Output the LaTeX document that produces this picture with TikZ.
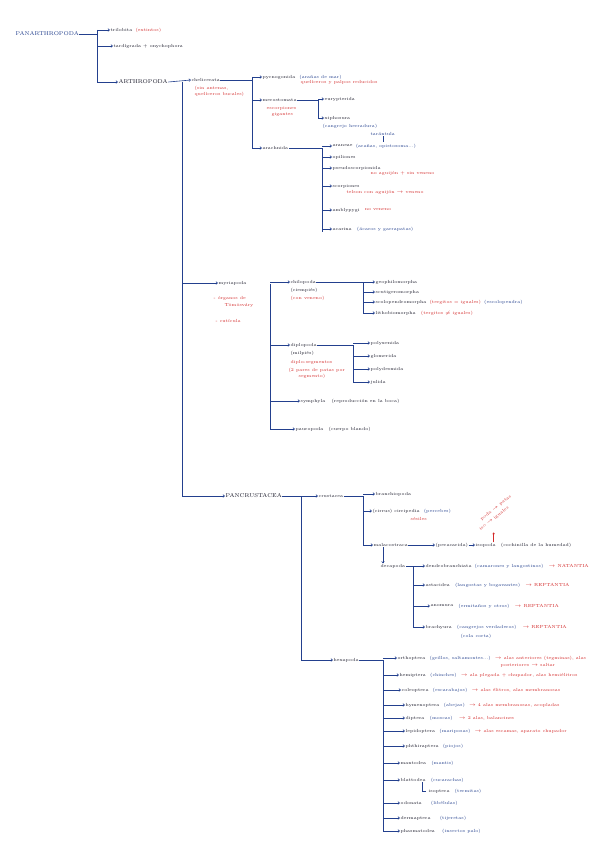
\documentclass[tikz,border=0pt]{standalone}
\usetikzlibrary{arrows.meta}
\definecolor{myblue}{HTML}{23408E}
\definecolor{myred}{HTML}{D42A2A}
\definecolor{ink}{HTML}{1A1A2A}
\tikzset{
 tx/.style={font=\fontsize{4.4}{5}\selectfont, inner sep=0.4pt, anchor=west, text=ink},
 bl/.style={tx, text=myblue},
 rd/.style={tx, text=myred},
 big/.style={tx, text=myblue, font=\fontsize{5.6}{6}\selectfont},
 ln/.style={draw=myblue, line width=0.6pt},
 arr/.style={ln, -{Straight Barb[length=1.6pt,width=2.6pt]}},
}
\newcommand\aftr[5][2pt]{\node[#2] (#3) at ([xshift=#1]#4.east) {#5};}
\begin{document}
\begin{tikzpicture}[x=1pt,y=-1pt]
\fill[white] (0,0) rectangle (600,848);
\useasboundingbox (0,0) rectangle (600,848);

% ---------- root ----------
\node[big] (pan) at (15,34) {PANARTHROPODA};
\coordinate (s0a) at (97,30);
\coordinate (s0b) at (97,82);
\draw[ln] (pan.east) -- (pan.east -| s0a);
\draw[ln] (s0a) -- (s0b);
\node[tx] (tri) at (110,30) {trilobita};
\aftr{rd}{trir}{tri}{(extintos)}
\node[tx] (tar) at (113,46) {tardígrada + onychophora};
\node[big, text=ink] (art) at (118,82) {ARTHROPODA};
\foreach \n in {tri,tar,art} \draw[arr] (\n.west -| s0a) -- (\n.west);

% ---------- arthropoda spine ----------
\node[tx] (che) at (191,80) {chelicerata};
\draw[arr] (art.east) -- (che.west);
\node[rd] (cher1) at (194,88) {(sin antenas,};
\node[rd] (cher2) at (194,94) {quelíceros bucales)};
\coordinate (s1a) at (182,82);
\coordinate (s1b) at (182,497);
\draw[ln] (s1a) -- (s1b);

% ---------- chelicerata ----------
\coordinate (s2a) at (252,77);
\coordinate (s2b) at (252,148);
\draw[ln] (che.east) -- (che.east -| s2a);
\draw[ln] (s2a) -- (s2b);
\node[tx] (pyc) at (262,77) {pycnogonida};
\aftr[3pt]{bl}{pycb}{pyc}{(arañas de mar)}
\node[rd] (pycr) at (300,82) {quelíceros y palpos reducidos};
\node[tx] (mer) at (262,100) {merostomata};
\node[rd] (merr1) at (266,108) {escorpiones};
\node[rd] (merr2) at (271,114) {gigantes};
\node[tx] (ara) at (262,148) {arachnida};
\foreach \n in {pyc,mer,ara} \draw[arr] (\n.west -| s2a) -- (\n.west);

% merostomata
\coordinate (s3a) at (318,100);
\coordinate (s3b) at (318,118);
\draw[ln] (mer.east) -- (mer.east -| s3a);
\draw[ln] (s3a) -- (s3b);
\node[tx] (eur) at (324,99) {eurypterida};
\node[tx] (xip) at (324,118) {xiphosura};
\node[bl] (xipb) at (322,126) {(cangrejo herradura)};
\foreach \n in {eur,xip} \draw[arr] (\n.west -| s3a) -- (\n.west);

% arachnida
\coordinate (s4a) at (322,148);
\coordinate (s4b) at (322,232);
\draw[ln] (ara.east) -- (ara.east -| s4a);
\draw[ln] (s4a) -- (s4b);
\node[tx] (arn) at (332,146) {araneae};
\aftr{bl}{arnb}{arn}{(arañas, opistosoma...)}
\node[bl] (tara) at (370,134) {tarántula};
\draw[ln, line width=0.4pt] (tara.south) -- ++(0,6);
\node[tx] (opi) at (332,157) {opiliones};
\node[tx] (pse) at (332,168) {pseudoscorpionida};
\node[rd] (pser) at (370,173) {no aguijón + sin veneno};
\node[tx] (sco) at (332,186) {scorpiones};
\node[rd] (scor) at (346,192) {telson con aguijón $\to$ veneno};
\node[tx] (amb) at (332,210) {amblypygi};
\aftr[4pt]{rd}{ambr}{amb}{no veneno}
\node[tx] (aca) at (332,229) {acarina};
\aftr[4pt]{bl}{acab}{aca}{(ácaros y garrapatas)}
\foreach \n in {arn,opi,pse,sco,amb,aca} \draw[arr] (\n.west -| s4a) -- (\n.west);

% ---------- myriapoda ----------
\node[tx] (myr) at (218,283) {myriapoda};
\node[rd] (myr1) at (213,298) {- órganos de};
\node[rd] (myr2) at (224,305) {Tömösváry};
\node[rd] (myr3) at (215,321) {- cutícula};
\draw[arr] (myr.west -| s1a) -- (myr.west);
\coordinate (s5a) at (270,284);
\coordinate (s5b) at (270,430);
\draw[ln] (s5a) -- (s5b);
\node[tx] (chi) at (290,282) {chilopoda};
\node[tx] (chi1) at (290,290) {(ciempiés)};
\node[rd] (chi2) at (290,298) {(con veneno)};
\node[tx] (dip) at (290,345) {diplopoda};
\node[tx] (dip1) at (290,353) {(milpiés)};
\node[rd] (dip2) at (290,362) {diplo-segmentos};
\node[rd] (dip3) at (288,370) {(2 pares de patas por};
\node[rd] (dip4) at (298,376) {segmento)};
\node[tx] (sym) at (300,401) {symphyla};
\aftr[5pt]{tx}{symb}{sym}{(reproducción en la boca)}
\node[tx] (pau) at (295,429) {pauropoda};
\aftr[4pt]{tx}{paub}{pau}{(cuerpo blando)}
\foreach \n in {chi,dip,sym,pau} \draw[arr] (\n.west -| s5a) -- (\n.west);

\coordinate (s6a) at (363,282);
\coordinate (s6b) at (363,313);
\draw[ln] (chi.east) -- (chi.east -| s6a);
\draw[ln] (s6a) -- (s6b);
\node[tx] (geo) at (375,282) {geophilomorpha};
\node[tx] (scu) at (375,292) {scutigeromorpha};
\node[tx] (scl) at (375,302) {scolopendromorpha};
\aftr{rd}{sclr}{scl}{(tergitos = iguales)}
\aftr{bl}{sclb}{sclr}{(escolopendra)}
\node[tx] (lit) at (375,313) {lithobiomorpha};
\aftr[4pt]{rd}{litr}{lit}{(tergitos $\neq$ iguales)}
\foreach \n in {geo,scu,scl,lit} \draw[arr] (\n.west -| s6a) -- (\n.west);

\coordinate (s7a) at (353,345);
\coordinate (s7b) at (353,382);
\draw[ln] (dip.east) -- (dip.east -| s7a);
\draw[ln] (s7a) -- (s7b);
\node[tx] (pxe) at (370,343) {polyxenida};
\node[tx] (glo) at (370,356) {glomerida};
\node[tx] (pde) at (370,369) {polydesmida};
\node[tx] (jul) at (370,382) {julida};
\foreach \n in {pxe,glo,pde,jul} \draw[arr] (\n.west -| s7a) -- (\n.west);

% ---------- pancrustacea ----------
\node[big, text=ink] (pcr) at (225,496) {PANCRUSTACEA};
\draw[arr] (pcr.west -| s1a) -- (pcr.west);
\coordinate (s8a) at (301,497);
\coordinate (s8b) at (301,660);
\draw[ln] (s8a) -- (s8b);
\node[tx] (cru) at (318,496) {crustacea};
\draw[arr] (pcr.east) -- (cru.west);
\node[tx] (hex) at (333,660) {hexapoda};
\draw[arr] (hex.west -| s8a) -- (hex.west);

\coordinate (s9a) at (363,496);
\coordinate (s9b) at (363,545);
\draw[ln] (cru.east) -- (cru.east -| s9a);
\draw[ln] (s9a) -- (s9b);
\node[tx] (brc) at (375,494) {branchiopoda};
\node[tx] (cir) at (372,511) {(cirrus) cirripedia};
\aftr[3pt]{bl}{cirb}{cir}{(percebes)}
\node[rd] (cirr) at (410,519) {sésiles};
\node[tx] (mal) at (373,545) {malacostraca};
\foreach \n in {brc,cir,mal} \draw[arr] (\n.west -| s9a) -- (\n.west);
\node[tx] (per) at (435,545) {(peracarida)};
\draw[arr] (mal.east) -- (per.west);
\node[tx] (iso) at (475,545) {isopoda};
\aftr[4pt]{tx}{isob}{iso}{(cochinilla de la humedad)}
\draw[arr] (per.east) -- (iso.west);
\draw[draw=myred, line width=0.4pt, -{Straight Barb[length=1.4pt,width=2.2pt]}] ([xshift=8pt]iso.north) -- ++(0,-10);
\node[rd, rotate=38, anchor=south west] (isr1) at (481,532) {iso $\to$ iguales};
\node[rd, rotate=38, anchor=south west] (isr2) at (482,522) {poda $\to$ patas};

\node[tx] (dec) at (380,566) {decapoda};
\draw[arr] (mal.south -| 383,0) -- (dec.north -| 383,0);
\coordinate (s10a) at (413,566);
\coordinate (s10b) at (413,627);
\draw[ln] (dec.east) -- (dec.east -| s10a);
\draw[ln] (s10a) -- (s10b);
\node[tx] (den) at (425,566) {dendrobranchiata};
\aftr{bl}{denb}{den}{(camarones y langostinos)}
\aftr[4pt]{rd}{denr}{denb}{$\to$ NATANTIA}
\node[tx] (ast) at (425,585) {astacidea};
\aftr[4pt]{bl}{astb}{ast}{(langostas y bogavantes)}
\aftr[4pt]{rd}{astr}{astb}{$\to$ REPTANTIA}
\node[tx] (ano) at (430,606) {anomura};
\aftr[4pt]{bl}{anob}{ano}{(ermitaños y otros)}
\aftr[4pt]{rd}{anor}{anob}{$\to$ REPTANTIA}
\node[tx] (bry) at (425,627) {brachyura};
\aftr[4pt]{bl}{bryb}{bry}{(cangrejos verdaderos)}
\aftr[5pt]{rd}{bryr}{bryb}{$\to$ REPTANTIA}
\node[bl] (bryc) at (460,636) {(cola corta)};
\foreach \n in {den,ast,ano,bry} \draw[arr] (\n.west -| s10a) -- (\n.west);

% ---------- hexapoda ----------
\coordinate (s11a) at (383,660);
\coordinate (s11b) at (383,832);
\draw[ln] (hex.east) -- (hex.east -| s11a);
\draw[ln] (s11a) -- (s11b);
\node[tx] (ort) at (397,658) {orthoptera};
\aftr[3pt]{bl}{ortb}{ort}{(grillos, saltamontes...)}
\aftr[3pt]{rd}{ortr}{ortb}{$\to$ alas anteriores (tegminas), alas}
\node[rd] (ortr2) at (500,665) {posteriores $\to$ saltar};
\node[tx] (hem) at (399,675) {hemiptera};
\aftr[3pt]{bl}{hemb}{hem}{(chinches)}
\aftr[3pt]{rd}{hemr}{hemb}{$\to$ ala plegada + chupador, alas hemiélitros};
\node[tx] (col) at (401,690) {coleoptera};
\aftr[3pt]{bl}{colb}{col}{(escarabajos)}
\aftr[3pt]{rd}{colr}{colb}{$\to$ alas élitros, alas membranosas}
\node[tx] (hym) at (405,705) {hymenoptera};
\aftr[3pt]{bl}{hymb}{hym}{(abejas)}
\aftr[3pt]{rd}{hymr}{hymb}{$\to$ 4 alas membranosas, acopladas}
\node[tx] (dpt) at (405,718) {diptera};
\aftr[4pt]{bl}{dptb}{dpt}{(moscas)}
\aftr[5pt]{rd}{dptr}{dptb}{$\to$ 2 alas, balancines}
\node[tx] (lep) at (405,731) {lepidoptera};
\aftr[3pt]{bl}{lepb}{lep}{(mariposas)}
\aftr[3pt]{rd}{lepr}{lepb}{$\to$ alas escamas, aparato chupador}
\node[tx] (phi) at (405,746) {phthiraptera};
\aftr[3pt]{bl}{phib}{phi}{(piojos)}
\node[tx] (man) at (400,763) {mantodea};
\aftr[4pt]{bl}{manb}{man}{(mantis)}
\node[tx] (bla) at (400,780) {blattodea};
\aftr[4pt]{bl}{blab}{bla}{(cucarachas)}
\node[tx] (isp) at (428,791) {isoptera};
\aftr[4pt]{bl}{ispb}{isp}{(termitas)}
\draw[ln] (bla.south -| 422,0) |- ([xshift=-2pt]isp.west);
\node[tx] (odo) at (400,803) {odonata};
\aftr[8pt]{bl}{odob}{odo}{(libélulas)}
\node[tx] (der) at (400,818) {dermaptera};
\aftr[8pt]{bl}{derb}{der}{(tijeretas)}
\node[tx] (pha) at (400,831) {phasmatodea};
\aftr[6pt]{bl}{phab}{pha}{(insectos palo)}
\foreach \n in {ort,hem,col,hym,dpt,lep,phi,man,bla,odo,der,pha} \draw[arr] (\n.west -| s11a) -- (\n.west);
\end{tikzpicture}
\end{document}
